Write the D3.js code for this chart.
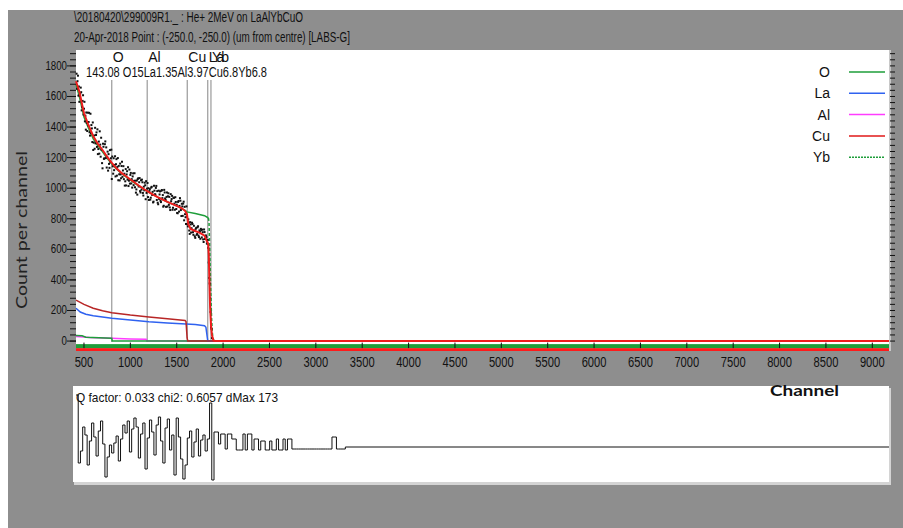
<!DOCTYPE html>
<html><head><meta charset="utf-8">
<script src="https://cdn.jsdelivr.net/npm/d3@7/dist/d3.min.js"></script>
<style>
html,body{margin:0;padding:0;background:#fff;}
svg{display:block;}
text{font-family:"Liberation Sans Narrow","Arial Narrow","Liberation Sans",Arial,sans-serif;fill:#111;}
</style></head><body>
<svg id="chart" width="903" height="528"></svg>
<script>
// ---- Measured spectrum: counts per channel, 10-channel spacing ----
// even set starts at channel 420, odd set at 425
const dataStep = 10;
const evenStart = 420;
const evenCounts = [
  1749,1700,1606,1565,1619,1628,1532,1608,1520,1437,
  1383,1427,1494,1433,1366,1487,1413,1302,1250,1345,
  1395,1348,1270,1223,1305,1372,1206,1251,1130,1271,
  1195,1306,1267,1205,1115,1159,1249,1196,1060,1143,
  1196,1152,1077,1190,1139,1052,1091,1161,1065,1173,
  1116,1059,1017,1125,1090,1056,1014,1122,1087,1031,
  1004,1097,1048,1006,971,1050,1060,1011,1066,972,
  990,1039,952,986,1019,1046,997,942,923,994,
  938,1009,976,912,984,958,1015,981,895,930,
  979,909,988,955,885,972,924,943,880,967,
  943,857,915,950,872,937,859,910,892,836,
  916,884,918,818,881,899,790,830,766,815,
  750,774,701,763,738,766,695,723,675,741,
  700,751,680,716,734,678,712,648,713,668,
  680,637,610,413,280,90,20
];
const oddStart = 425;
const oddCounts = [
  1650,1736,1665,1603,1658,1509,1571,1482,1565,1474,
  1495,1374,1411,1493,1344,1360,1391,1430,1298,1258,
  1293,1365,1385,1256,1226,1285,1330,1164,1291,1192,
  1288,1197,1135,1239,1223,1133,1170,1252,1207,1095,
  1118,1209,1157,1082,1197,1146,1051,1090,1145,1074,
  1144,1095,1045,1018,1111,1137,1049,1030,1100,1059,
  1077,1020,1098,1049,992,958,1065,1039,981,1052,
  1056,969,1010,1036,928,969,1034,1000,981,925,
  1004,956,907,1016,960,1002,923,905,984,959,
  918,983,935,879,989,933,878,972,947,891,
  874,961,929,859,938,899,941,864,838,910,
  847,935,857,898,819,912,878,810,881,764,
  796,723,778,710,774,712,754,685,734,695,
  744,690,724,669,725,729,665,730,668,691,
  639,661,514,377,190,80
];

// ---- Simulated total (red) ----
const fitChannels = [414,450,500,550,600,650,700,750,800,850,900,950,1000,1050,1100,1150,1200,1250,1300,1350,1400,1450,1500,1550,1590,1610,1625,1650,1700,1750,1800,1823,1840,1846,1852,1860,1870,1880,1895,1910,9180];
const fitCounts   = [1700,1632,1490,1410,1340,1290,1250,1205,1165,1130,1102,1080,1057,1036,1013,993,975,957,940,925,910,897,884,870,852,830,765,733,720,708,690,655,635,560,400,220,100,40,5,0,0];

// ---- Alternative simulation (green) ----
const altChannels = [414,450,500,550,600,650,700,750,800,850,900,1000,1100,1200,1300,1400,1500,1590,1610,1700,1800,1842];
const altCounts   = [1680,1600,1465,1390,1322,1278,1238,1195,1158,1125,1098,1052,1010,973,940,910,884,855,845,835,820,805];

// ---- Element partial spectra ----
const oChannels  = [414,480,520,800,805,9180];
const oCounts    = [36,34,25,18,0,0];
const laChannels = [414,460,520,600,800,1000,1200,1400,1600,1700,1800,1815,1828,1835,9180];
const laCounts   = [215,190,175,165,150,138,126,118,112,108,100,90,30,0,0];
const alChannels = [414,500,560,800,1000,1170,1180,9180];
const alCounts   = [30,27,24,18,14,12,0,0];
const cuChannels = [414,500,600,700,800,1000,1200,1400,1590,1600,1612,1620,9180];
const cuCounts   = [268,240,215,198,185,170,158,146,135,128,20,0,0];
const ybChannels = [1842,1848,1856,1866,1876,1886,1900,9180];
const ybCounts   = [805,780,600,350,150,40,0,0];

// ---- Surface-edge markers ----
const edgeNames    = ["O","Al","Cu","La","Yb"];
const edgeChannels = [799,1182,1614,1834,1869];

// ---- Axis ticks ----
const xTicks = [500,1000,1500,2000,2500,3000,3500,4000,4500,5000,5500,6000,6500,7000,7500,8000,8500,9000];
const yTicks = [0,200,400,600,800,1000,1200,1400,1600,1800];

// ---- Fit residual (24-channel bins from channel 414; zero afterwards) ----
const residStart = 414, residBin = 24;
const residValues = [
  5.2,-1.6,-0.4,2.0,1.2,-1.8,0.6,2.4,1.0,-0.9,
  1.6,2.6,0.3,-3.0,-1.0,0.2,-0.6,0.4,1.1,-1.4,
  0.8,2.2,1.4,2.6,-0.5,1.8,2.9,2.0,-1.1,1.3,
  2.4,-2.2,0.9,2.7,1.5,-0.8,2.2,3.0,0.6,-1.6,
  1.9,2.8,-0.3,1.2,-2.8,2.9,1.0,-1.2,-3.2,-1.8,
  0.9,1.6,-1.0,0.5,1.8,-0.9,0.7,1.2,-0.4,0.8,
  4.4,-3.3,1.5,1.5,0.3,1.3,1.3,-0.2,1.3,1.3,
  0.8,0.8,-0.3,-0.3,-0.3,1.3,-0.3,1.3,1.3,-0.3,
  0.8,0.8,-0.3,0.6,0.6,-0.3,-0.3,0.6,-0.3,-0.3,
  0.8,-0.3,-0.3,0.8,-0.3,0.8,0.8,-0.2,-0.2,-0.2,
  -0.2,-0.2,-0.2,-0.2,-0.2,-0.2,-0.2,-0.2,-0.2,-0.2,
  -0.2,-0.2,-0.2,-0.2,-0.2,1.0,1.0,-0.2,-0.2,-0.2,
  -0.2
];

const legendNames  = ["O","La","Al","Cu","Yb"];
const legendColors = ["#1e9e3a","#2f62f0","#ff3cff","#e01818","#1e9e3a"];

// ------------------------------------------------------------------
const svg = d3.select("#chart");
const W = 903, H = 528;

// window frame
svg.append("rect").attr("width",W).attr("height",H).attr("fill","#ffffff");
svg.append("rect").attr("x",8).attr("y",10).attr("width",W-8).attr("height",H-10).attr("fill","#8e8e8e");

const x = d3.scaleLinear().domain([414, 9180]).range([76, 889]);
const y = d3.scaleLinear().domain([-65, 1904]).range([351, 50]);
const yr = d3.scaleLinear().domain([-3.5, 6]).range([482, 387]);

// header lines
svg.append("text").attr("x",74).attr("y",22).attr("font-size",14)
  .attr("textLength",229).attr("lengthAdjust","spacingAndGlyphs")
  .text("\\20180420\\299009R1._ :  He+ 2MeV on LaAlYbCuO");
svg.append("text").attr("x",74).attr("y",42).attr("font-size",14)
  .attr("textLength",276).attr("lengthAdjust","spacingAndGlyphs")
  .text("20-Apr-2018  Point : (-250.0, -250.0)  (um from centre) [LABS-G]");

// plot area
svg.append("rect").attr("x",x.range()[0]).attr("y",y.range()[1])
  .attr("width",x.range()[1]-x.range()[0]).attr("height",y.range()[0]-y.range()[1])
  .attr("fill","#fff");
svg.append("line").attr("x1",x.range()[1]+1).attr("x2",x.range()[1]+1)
  .attr("y1",y.range()[1]).attr("y2",y.range()[0]).attr("stroke","#c8c8c8").attr("stroke-width",2);

const plot = svg.append("g");

// edge markers
edgeChannels.forEach((c,i)=>{
  plot.append("line").attr("x1",x(c)).attr("x2",x(c)).attr("y1",80).attr("y2",y(0)+1)
    .attr("stroke","#a8a8a8").attr("stroke-width",1.4);
  plot.append("text").attr("x",x(c)+1).attr("y",62).attr("font-size",14).text(edgeNames[i]);
});
svg.append("text").attr("x",86).attr("y",77).attr("font-size",14)
  .attr("textLength",181).attr("lengthAdjust","spacingAndGlyphs")
  .text("143.08 O15La1.35Al3.97Cu6.8Yb6.8");

const line = d3.line().x(d=>x(d[0])).y(d=>y(d[1]));
const zip = (a,b)=>a.map((v,i)=>[v,b[i]]);

// bottom colour band (zero levels of the simulations)
plot.append("rect").attr("x",x.range()[0]).attr("width",x.range()[1]-x.range()[0])
  .attr("y",y(-46)).attr("height",y(-65)-y(-46)).attr("fill","#ff1a1a");
plot.append("rect").attr("x",x.range()[0]).attr("width",x.range()[1]-x.range()[0])
  .attr("y",y(-20)).attr("height",y(-46)-y(-20)).attr("fill","#1e9e3a");

function drawSeries(ch, ct, color, width, dash){
  const p = plot.append("path").datum(zip(ch,ct)).attr("d",line)
    .attr("fill","none").attr("stroke",color).attr("stroke-width",width);
  if(dash) p.attr("stroke-dasharray",dash);
}
drawSeries(alChannels, alCounts, "#ff3cff", 1.5);
drawSeries(oChannels, oCounts, "#1e9e3a", 1.5);
drawSeries(laChannels, laCounts, "#2f62f0", 1.5);
drawSeries(cuChannels, cuCounts, "#b82626", 1.5);
drawSeries(altChannels, altCounts, "#1e9e3a", 1.5);
drawSeries(ybChannels, ybCounts, "#1e9e3a", 1.5, "3,2");

// data points
function drawPoints(start, counts, cls){
  plot.selectAll("rect."+cls).data(counts).join("rect").attr("class",cls)
    .attr("x",(d,i)=>x(start+i*dataStep)-1).attr("y",d=>y(d)-1)
    .attr("width",2).attr("height",2).attr("fill","#111");
}
drawPoints(evenStart, evenCounts, "pe");
drawPoints(oddStart, oddCounts, "po");

drawSeries(fitChannels, fitCounts, "#ee1c1c", 2);

// x ticks inside the bottom band
plot.selectAll("line.xt").data(xTicks).join("line").attr("class","xt")
  .attr("x1",d=>x(d)).attr("x2",d=>x(d)).attr("y1",y(-10)).attr("y2",y(-46))
  .attr("stroke","#111").attr("stroke-width",1);
svg.selectAll("text.xl").data(xTicks).join("text").attr("class","xl")
  .attr("x",d=>x(d)).attr("y",367).attr("font-size",15).attr("text-anchor","middle")
  .attr("textLength",d=>String(d).length*6.2).attr("lengthAdjust","spacingAndGlyphs")
  .text(d=>d);

// y axis ticks (left & right)
const yMinor = d3.range(0, 1904, 40);
svg.selectAll("line.ym").data(yMinor).join("line").attr("class","ym")
  .attr("x1",70).attr("x2",76).attr("y1",d=>y(d)).attr("y2",d=>y(d))
  .attr("stroke","#111").attr("stroke-width",1);
svg.selectAll("line.ymr").data(yMinor).join("line").attr("class","ymr")
  .attr("x1",890).attr("x2",895).attr("y1",d=>y(d)).attr("y2",d=>y(d))
  .attr("stroke","#111").attr("stroke-width",1);
svg.selectAll("line.yM").data(yTicks).join("line").attr("class","yM")
  .attr("x1",67).attr("x2",76).attr("y1",d=>y(d)).attr("y2",d=>y(d))
  .attr("stroke","#111").attr("stroke-width",1);
svg.selectAll("text.yl").data(yTicks).join("text").attr("class","yl")
  .attr("x",67).attr("y",d=>y(d)+4).attr("font-size",12).attr("text-anchor","end")
  .attr("textLength",d=>String(d).length*5.4).attr("lengthAdjust","spacingAndGlyphs")
  .text(d=>d);

// axis titles
svg.append("text").attr("transform","translate(27,230) rotate(-90)")
  .attr("text-anchor","middle").style("font-family","Lato, 'Open Sans', sans-serif")
  .attr("font-weight","normal").style("fill","#222")
  .attr("font-size",16).attr("textLength",158).attr("lengthAdjust","spacingAndGlyphs")
  .text("Count per channel");

// legend
legendNames.forEach((n,i)=>{
  const ly = 72 + i*21.3;
  svg.append("text").attr("x",830).attr("y",ly+5).attr("font-size",14).attr("text-anchor","end").text(n);
  const l = svg.append("line").attr("x1",849).attr("x2",885).attr("y1",ly).attr("y2",ly)
    .attr("stroke",legendColors[i]).attr("stroke-width",1.5);
  if(i===4) l.attr("stroke-dasharray","2,1");
});

// residual panel
svg.append("rect").attr("x",74).attr("y",388).attr("width",817).attr("height",97).attr("fill","#d4d4d4");
svg.append("rect").attr("x",73).attr("y",386).attr("width",816).attr("height",96).attr("fill","#fff");
const residPts = [];
residValues.forEach((v,i)=>{ residPts.push([residStart+i*residBin, v]); });
residPts.push([residStart+residValues.length*residBin, 0]);
residPts.push([x.domain()[1], 0]);
svg.append("path").datum(residPts)
  .attr("d", d3.line().curve(d3.curveStepAfter).x(d=>x(d[0])).y(d=>yr(d[1])))
  .attr("fill","none").attr("stroke","#111").attr("stroke-width",1);
svg.append("text").attr("x",76).attr("y",402).attr("font-size",13)
  .attr("textLength",202).attr("lengthAdjust","spacingAndGlyphs")
  .text("Q factor: 0.033   chi2: 0.6057  dMax 173");

svg.append("text").attr("x",770).attr("y",396).style("font-family","Lato, 'Open Sans', sans-serif")
  .attr("font-weight","bold").attr("font-size",16).attr("textLength",69).attr("lengthAdjust","spacingAndGlyphs")
  .text("Channel");
</script>
</body></html>
